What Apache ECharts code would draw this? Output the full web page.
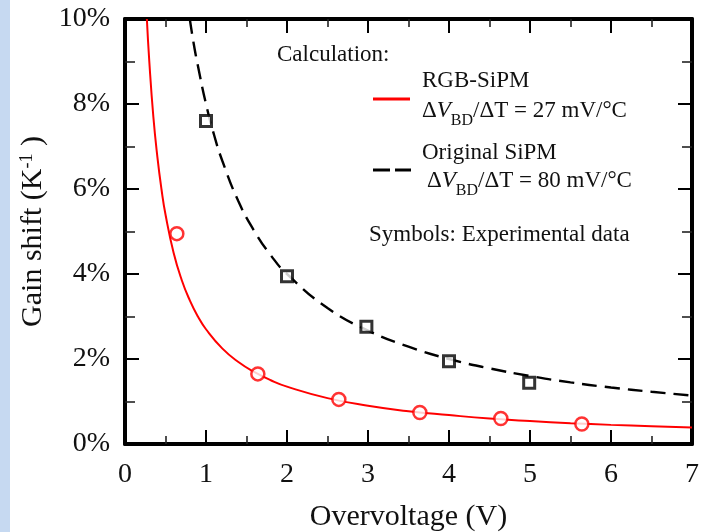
<!DOCTYPE html>
<html>
<head>
<meta charset="utf-8">
<script src="https://cdn.jsdelivr.net/npm/echarts@6/dist/echarts.min.js"></script>
<style>
  html, body { margin: 0; padding: 0; background: #fff; }
  #chart { width: 706px; height: 532px; }
</style>
</head>
<body>
<div id="chart"></div>
<script>
// Calculated gain-shift curves (overvoltage in V, gain shift in % per K)
const rgbCalcV    = [0.27, 0.3, 0.35, 0.4, 0.45, 0.5, 0.6, 0.7, 0.8, 0.9, 1.0, 1.2, 1.4, 1.6, 1.8, 2.0, 2.5, 3.0, 3.5, 4.0, 4.5, 5.0, 5.5, 6.0, 6.5, 7.0];
const rgbCalcGain = [10.0, 9.0, 7.7, 6.75, 6.0, 5.4, 4.5, 3.86, 3.38, 3.0, 2.7, 2.25, 1.93, 1.69, 1.5, 1.35, 1.08, 0.9, 0.77, 0.68, 0.6, 0.54, 0.49, 0.45, 0.42, 0.39];
const origCalcV    = [0.8, 0.85, 0.9, 1.0, 1.1, 1.2, 1.4, 1.6, 1.8, 2.0, 2.5, 3.0, 3.5, 4.0, 4.5, 5.0, 5.5, 6.0, 6.5, 7.0];
const origCalcGain = [10.0, 9.4, 8.9, 8.0, 7.27, 6.67, 5.71, 5.0, 4.44, 4.0, 3.2, 2.67, 2.29, 2.0, 1.78, 1.6, 1.45, 1.33, 1.23, 1.14];

// Measured points
const rgbExpV     = [0.64, 1.64, 2.64, 3.64, 4.64, 5.64];
const rgbExpGain  = [4.95, 1.65, 1.05, 0.74, 0.60, 0.47];
const origExpV    = [1.0, 2.0, 2.98, 4.0, 4.99];
const origExpGain = [7.6, 3.95, 2.76, 1.95, 1.44];

// Axis ranges
const xRange = { min: 0, max: 7, interval: 1 };
const yRange = { min: 0, max: 10, interval: 2 };

const zip = (xs, ys) => xs.map((x, i) => [x, ys[i]]);

const SERIF = 'Liberation Serif, Times New Roman, serif';
const INK = '#111';

const chart = echarts.init(document.getElementById('chart'), null, { renderer: 'canvas' });

const frameAxisCommon = {
  axisLine: { show: true, onZero: false, lineStyle: { color: '#000', width: 4 } },
  splitLine: { show: false }
};

const majorTick = { show: true, inside: true, length: 14, lineStyle: { color: '#000', width: 2 } };

const option = {
  backgroundColor: '#fff',
  animation: false,
  grid: { left: 125, right: 14, top: 19, bottom: 88, containLabel: false, outerBoundsMode: 'none' },
  xAxis: [
    Object.assign({
      type: 'value', position: 'bottom',
      min: xRange.min, max: xRange.max, interval: xRange.interval,
      name: 'Overvoltage (V)', nameLocation: 'middle', nameGap: 58,
      nameTextStyle: { fontFamily: SERIF, fontSize: 30, color: INK },
      axisTick: majorTick,
      minorTick: { show: true, splitNumber: 2, length: 8, lineStyle: { color: '#222', width: 1.6 } },
      axisLabel: { show: true, margin: 17, fontFamily: SERIF, fontSize: 28, color: INK, showMinLabel: true, showMaxLabel: true }
    }, frameAxisCommon),
    Object.assign({
      type: 'value', position: 'top',
      min: xRange.min, max: xRange.max, interval: xRange.interval,
      axisTick: majorTick,
      minorTick: { show: true, splitNumber: 2, length: 8, lineStyle: { color: '#222', width: 1.6 } },
      axisLabel: { show: false }
    }, frameAxisCommon)
  ],
  yAxis: [
    Object.assign({
      type: 'value', position: 'left',
      min: yRange.min, max: yRange.max, interval: yRange.interval,
      name: 'Gain shift (K{sup|-1}{t| )}', nameLocation: 'middle', nameGap: 62,
      nameTextStyle: {
        fontFamily: SERIF, fontSize: 30, color: INK,
        rich: {
          sup: { fontFamily: SERIF, fontSize: 18, color: INK, verticalAlign: 'top', lineHeight: 30 },
          t: { fontFamily: SERIF, fontSize: 30, color: INK }
        }
      },
      axisTick: majorTick,
      minorTick: { show: true, splitNumber: 2, length: 10, lineStyle: { color: '#222', width: 1.6 } },
      axisLabel: { show: true, margin: 15, fontFamily: SERIF, fontSize: 28, color: INK, formatter: '{value}%', showMinLabel: true, showMaxLabel: true }
    }, frameAxisCommon),
    Object.assign({
      type: 'value', position: 'right',
      min: yRange.min, max: yRange.max, interval: yRange.interval,
      axisTick: majorTick,
      minorTick: { show: true, splitNumber: 2, length: 10, lineStyle: { color: '#222', width: 1.6 } },
      axisLabel: { show: false }
    }, frameAxisCommon)
  ],
  series: [
    {
      name: 'RGB-SiPM (calculation)', type: 'line',
      data: zip(rgbCalcV, rgbCalcGain),
      smooth: 0.5, showSymbol: false, clip: true,
      lineStyle: { color: '#ff0000', width: 2 }, z: 2
    },
    {
      name: 'Original SiPM (calculation)', type: 'line',
      data: zip(origCalcV, origCalcGain),
      smooth: 0.5, showSymbol: false, clip: true,
      lineStyle: { color: '#000', width: 2.4, type: [15, 8] }, z: 2
    },
    {
      name: 'RGB-SiPM (experiment)', type: 'scatter',
      data: zip(rgbExpV, rgbExpGain),
      symbol: 'circle', symbolSize: 13,
      itemStyle: { color: '#fff', borderColor: '#ff0000', borderWidth: 2.5 }, z: 5
    },
    {
      name: 'Original SiPM (experiment)', type: 'scatter',
      data: zip(origExpV, origExpGain),
      symbol: 'rect', symbolSize: 11,
      itemStyle: { color: '#fff', borderColor: '#000', borderWidth: 3 }, z: 5
    }
  ],
  graphic: [
    // light blue strip along the left page edge
    { type: 'rect', left: 0, top: 0, shape: { width: 10, height: 532 }, style: { fill: '#c6d9f1' }, silent: true, z: -1 },
    { type: 'text', x: 277, y: 55, style: { text: 'Calculation:', font: '23px ' + SERIF, fill: INK, verticalAlign: 'middle', textVerticalAlign: 'middle' } },
    { type: 'text', x: 422, y: 81, style: { text: 'RGB-SiPM', font: '23px ' + SERIF, fill: INK, verticalAlign: 'middle', textVerticalAlign: 'middle' } },
    {
      type: 'text', x: 422, y: 111,
      style: {
        text: '{t|Δ}{i|V}{s|BD}{t|/ΔT = 27 mV/°C}', fill: INK,
        verticalAlign: 'middle', textVerticalAlign: 'middle',
        rich: {
          t: { fontFamily: SERIF, fontSize: 23, lineHeight: 36, fill: INK, color: INK },
          i: { fontFamily: SERIF, fontSize: 23, fontStyle: 'italic', lineHeight: 36, fill: INK, color: INK },
          s: { fontFamily: SERIF, fontSize: 16, verticalAlign: 'bottom', lineHeight: 16, fill: INK, color: INK }
        }
      }
    },
    { type: 'line', shape: { x1: 373, y1: 99, x2: 410, y2: 99 }, style: { stroke: '#ff0000', lineWidth: 3 } },
    { type: 'text', x: 422, y: 153, style: { text: 'Original SiPM', font: '23px ' + SERIF, fill: INK, verticalAlign: 'middle', textVerticalAlign: 'middle' } },
    {
      type: 'text', x: 427, y: 181,
      style: {
        text: '{t|Δ}{i|V}{s|BD}{t|/ΔT = 80 mV/°C}', fill: INK,
        verticalAlign: 'middle', textVerticalAlign: 'middle',
        rich: {
          t: { fontFamily: SERIF, fontSize: 23, lineHeight: 36, fill: INK, color: INK },
          i: { fontFamily: SERIF, fontSize: 23, fontStyle: 'italic', lineHeight: 36, fill: INK, color: INK },
          s: { fontFamily: SERIF, fontSize: 16, verticalAlign: 'bottom', lineHeight: 16, fill: INK, color: INK }
        }
      }
    },
    { type: 'line', shape: { x1: 373, y1: 170, x2: 390, y2: 170 }, style: { stroke: '#000', lineWidth: 3 } },
    { type: 'line', shape: { x1: 395, y1: 170, x2: 411, y2: 170 }, style: { stroke: '#000', lineWidth: 3 } },
    { type: 'text', x: 369, y: 235, style: { text: 'Symbols: Experimental data', font: '23px ' + SERIF, fill: INK, verticalAlign: 'middle', textVerticalAlign: 'middle' } }
  ]
};

chart.setOption(option);
</script>
</body>
</html>
